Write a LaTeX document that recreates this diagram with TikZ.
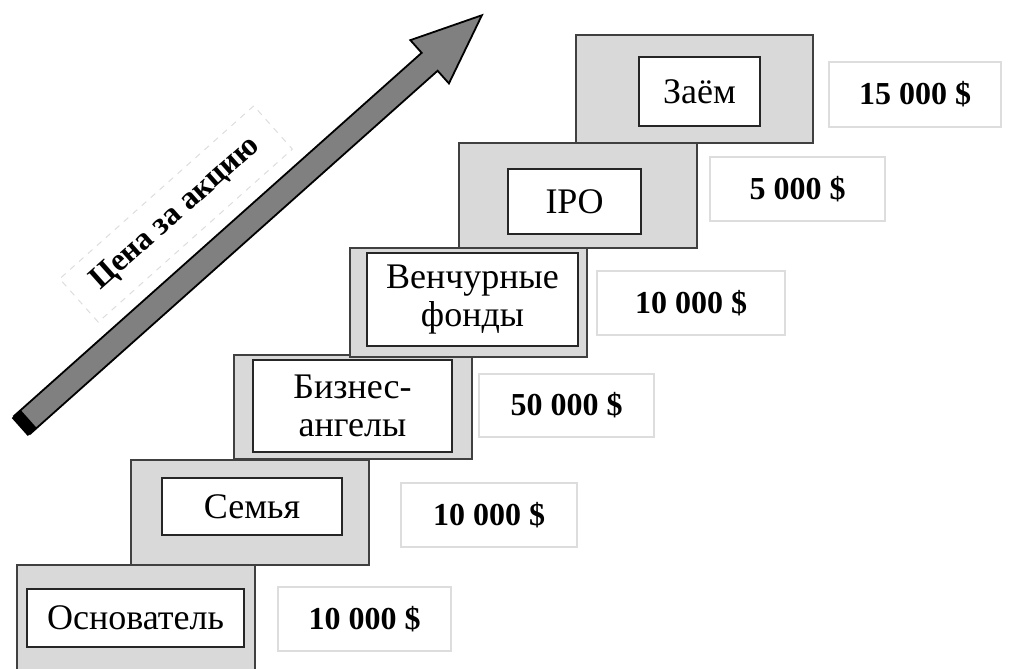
\documentclass[tikz,border=0pt]{standalone}
\usepackage{fontspec}
\setmainfont{Liberation Serif}
\definecolor{grisEscalon}{HTML}{D9D9D9}
\definecolor{grisBorde}{HTML}{404040}
\definecolor{grisFlecha}{HTML}{808080}
\definecolor{grisMarco}{HTML}{DDDDDD}
\begin{document}
\begin{tikzpicture}[x=0.5pt,y=-0.5pt,
  escalon/.style={draw=grisBorde,line width=1.4pt,fill=grisEscalon,inner sep=0pt,outer sep=0pt},
  rotulo/.style={draw=black!85,line width=1pt,fill=white,inner sep=0pt,align=center,
    font=\fontsize{18}{19}\selectfont},
  cifra/.style={draw=grisMarco,line width=0.6pt,inner sep=0pt,font=\fontsize{16}{18}\selectfont\bfseries}]
  \useasboundingbox (0,0) rectangle (1031,668);
  \node[escalon,minimum width=119pt,minimum height=54pt] (esc1) at (136,619) {};
  \node[rotulo,minimum width=108.5pt,minimum height=29pt] (nom1) at (135.5,618) {Основатель};
  \node[cifra,minimum width=86.5pt,minimum height=32pt] (val1) at (364.5,619) {10 000 \$};
  \node[escalon,minimum width=119pt,minimum height=52.5pt] (esc2) at (250,512.5) {};
  \node[rotulo,minimum width=90pt,minimum height=28.5pt] (nom2) at (252,506.5) {Семья};
  \node[cifra,minimum width=88pt,minimum height=32pt] (val2) at (489,515) {10 000 \$};
  \node[escalon,minimum width=119pt,minimum height=52pt] (esc3) at (353,407) {};
  \node[rotulo,minimum width=99.5pt,minimum height=46pt] (nom3) at (352.5,406) {Бизнес-\\ангелы};
  \node[cifra,minimum width=87.5pt,minimum height=31.5pt] (val3) at (566.5,405.5) {50 000 \$};
  \node[escalon,minimum width=118.5pt,minimum height=54.5pt] (esc4) at (468.5,302.5) {};
  \node[rotulo,minimum width=105.5pt,minimum height=46.5pt] (nom4) at (472.5,299.5) {Венчурные\\фонды};
  \node[cifra,minimum width=94pt,minimum height=32pt] (val4) at (691,303) {10 000 \$};
  \node[escalon,minimum width=119pt,minimum height=52.5pt] (esc5) at (578,195.5) {};
  \node[rotulo,minimum width=66.5pt,minimum height=32.5pt] (nom5) at (574.5,201.5) {IPO};
  \node[cifra,minimum width=87.5pt,minimum height=32pt] (val5) at (797.5,189) {5 000 \$};
  \node[escalon,minimum width=118.5pt,minimum height=54pt] (esc6) at (694.5,89) {};
  \node[rotulo,minimum width=60.5pt,minimum height=34.5pt] (nom6) at (699.5,91.5) {Заём};
  \node[cifra,minimum width=86pt,minimum height=32.5pt] (val6) at (915,94.5) {15 000 \$};
  \coordinate (cola) at (22,425);
  \coordinate (punta) at (482,15);
  \begin{scope}[shift={(cola)},rotate=41.7]
    \fill[draw=black,line width=0.9pt,fill=grisFlecha]
      (0,-12) -- (546,-12) -- (546,-29) -- (616,0) -- (546,29) -- (546,12) -- (0,12) -- cycle;
    \fill[black] (-3,-12) rectangle (9,12);
  \end{scope}
  \node[draw=grisMarco,dashed,line width=0.5pt,rotate=41.7,minimum width=130pt,minimum height=29pt,
    font=\fontsize{16}{18}\selectfont\bfseries] (precio) at (176,214) {Цена за акцию};
\end{tikzpicture}
\end{document}
